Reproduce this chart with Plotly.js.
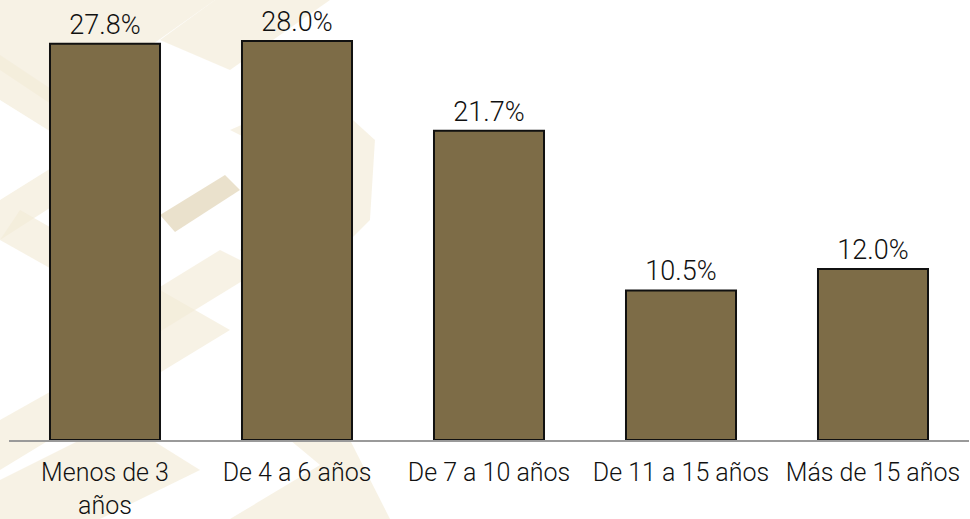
<!DOCTYPE html>
<html>
<head>
<meta charset="utf-8">
<script src="https://cdn.plot.ly/plotly-3.0.1.min.js"></script>
<style>html,body{margin:0;padding:0;background:#fff;}#chart{width:970px;height:519px;}</style>
</head>
<body>
<div id="chart"></div>
<script>
const categories = ["Menos de 3<br>años", "De 4 a 6 años", "De 7 a 10 años", "De 11 a 15 años", "Más de 15 años"];
const values = [27.8, 28.0, 21.7, 10.5, 12.0];

const W = 970, H = 519, ML = 9, MR = 1, MT = 12, MB = 79;
const pw = W - ML - MR, ph = H - MT - MB;
function px(x){ return (x - ML) / pw; }
function py(y){ return (H - MB - y) / ph; }
function poly(pts, color){
  let d = pts.map((p,i)=> (i? 'L':'M') + px(p[0]).toFixed(4) + ',' + py(p[1]).toFixed(4)).join(' ') + ' Z';
  return {type:'path', xref:'paper', yref:'paper', path:d, fillcolor:color, line:{width:0}, layer:'below'};
}
const beige = 'rgba(243,235,215,0.65)';
const dark = 'rgba(225,212,182,0.7)';
const shapes = [
  poly([[0,0],[215,0],[60,110],[0,70]], beige),
  poly([[0,100],[80,150],[0,200],[0,240],[140,150],[60,95],[0,55]], beige),
  poly([[215,0],[330,0],[230,70],[160,40]], beige),
  poly([[0,240],[160,330],[0,420],[0,470],[230,330],[20,210]], beige),
  poly([[160,215],[225,175],[240,190],[175,232]], dark),
  poly([[230,130],[320,90],[375,140],[370,220],[300,290],[240,250],[305,205],[300,165]], beige),
  poly([[0,480],[120,420],[200,470],[100,519],[0,519]], beige),
  poly([[230,519],[320,465],[290,440],[350,440],[390,519]], beige),
  poly([[90,330],[220,250],[260,270],[130,350]], beige)
];

const data = [{
  type: 'bar',
  x: categories,
  y: values,
  marker: {color: '#7D6C47', line: {color: '#111111', width: 2}},
  texttemplate: '%{y:.1f}%',
  textposition: 'outside',
  cliponaxis: false,
  textfont: {family: 'Roboto, sans-serif', size: 27, weight: 300, color: '#111111'},
  hoverinfo: 'none'
}];

const layout = {
  width: W, height: H,
  margin: {l: ML, r: MR, t: MT, b: MB},
  paper_bgcolor: 'rgba(0,0,0,0)',
  plot_bgcolor: 'rgba(0,0,0,0)',
  bargap: 0.427,
  showlegend: false,
  shapes: shapes,
  xaxis: {
    showline: true, linecolor: '#9a9a9a', linewidth: 2,
    ticks: '', showgrid: false, zeroline: false,
    ticklabelstandoff: 9,
    tickfont: {family: 'Roboto, sans-serif', size: 25, weight: 300, color: '#111111'},
    fixedrange: true
  },
  yaxis: {
    range: [0, ph / 14.25], visible: false, showgrid: false, zeroline: false, fixedrange: true
  },
  font: {family: 'Roboto, sans-serif'}
};

Plotly.newPlot('chart', data, layout, {displayModeBar: false, staticPlot: true});
</script>
</body>
</html>
